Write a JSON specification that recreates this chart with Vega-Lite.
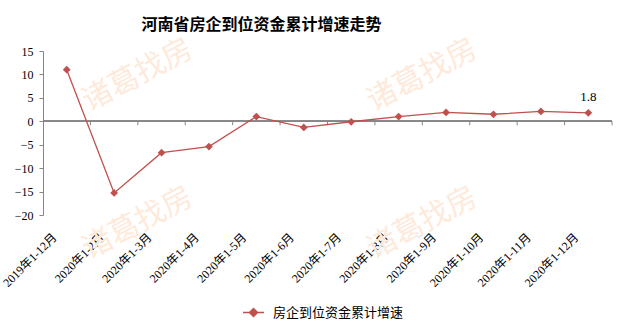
{
  "$schema": "https://vega.github.io/schema/vega-lite/v6.json",
  "width": 569,
  "height": 164,
  "autosize": {"type": "none"},
  "padding": {"left": 43, "top": 51, "right": 17, "bottom": 118},
  "background": "#ffffff",
  "title": {
    "text": "河南省房企到位资金累计增速走势",
    "font": "Noto Sans CJK SC",
    "fontSize": 16,
    "fontWeight": "bold",
    "color": "#000000",
    "anchor": "middle",
    "frame": "group",
    "baseline": "alphabetic",
    "offset": 15,
    "dx": -66,
    "dy": 27
  },
  "datasets": {
    "series": [
      {"cat": "2019年1-12月", "value": 11.0, "series": "房企到位资金累计增速"},
      {"cat": "2020年1-2月", "value": -15.3, "series": "房企到位资金累计增速"},
      {"cat": "2020年1-3月", "value": -6.7, "series": "房企到位资金累计增速"},
      {"cat": "2020年1-4月", "value": -5.4, "series": "房企到位资金累计增速"},
      {"cat": "2020年1-5月", "value": 1.0, "series": "房企到位资金累计增速"},
      {"cat": "2020年1-6月", "value": -1.3, "series": "房企到位资金累计增速"},
      {"cat": "2020年1-7月", "value": -0.1, "series": "房企到位资金累计增速"},
      {"cat": "2020年1-8月", "value": 1.0, "series": "房企到位资金累计增速"},
      {"cat": "2020年1-9月", "value": 1.9, "series": "房企到位资金累计增速"},
      {"cat": "2020年1-10月", "value": 1.5, "series": "房企到位资金累计增速"},
      {"cat": "2020年1-11月", "value": 2.1, "series": "房企到位资金累计增速"},
      {"cat": "2020年1-12月", "value": 1.8, "series": "房企到位资金累计增速"}
    ],
    "watermark": [
      {"cat": "2020年1-3月", "value": 9.8, "text": "诸葛找房"},
      {"cat": "2020年1-3月", "value": -21.8, "text": "诸葛找房"},
      {"cat": "2020年1-9月", "value": 9.8, "text": "诸葛找房"},
      {"cat": "2020年1-9月", "value": -21.8, "text": "诸葛找房"}
    ]
  },
  "data": {"name": "series"},
  "encoding": {
    "x": {
      "field": "cat",
      "type": "ordinal",
      "sort": ["2019年1-12月", "2020年1-2月", "2020年1-3月", "2020年1-4月", "2020年1-5月", "2020年1-6月", "2020年1-7月", "2020年1-8月", "2020年1-9月", "2020年1-10月", "2020年1-11月", "2020年1-12月"],
      "scale": {"paddingInner": 0, "paddingOuter": 0},
      "axis": {
        "title": null,
        "domain": false,
        "ticks": false,
        "grid": false,
        "labelAngle": -45,
        "labelAlign": "right",
        "labelBaseline": "middle",
        "labelPadding": 20,
        "labelOffset": -12,
        "labelOverlap": false,
        "labelFont": "Liberation Serif, Noto Sans CJK SC",
        "labelFontSize": 12,
        "labelColor": "#000000"
      }
    },
    "y": {
      "field": "value",
      "type": "quantitative",
      "scale": {"domain": [-20, 15], "nice": false, "zero": false},
      "axis": {
        "title": null,
        "values": [-20, -15, -10, -5, 0, 5, 10, 15],
        "grid": false,
        "labelOverlap": false,
        "domainColor": "#868686",
        "tickColor": "#868686",
        "tickSize": 4,
        "labelPadding": 6,
        "labelFont": "Liberation Serif",
        "labelFontSize": 12,
        "labelColor": "#000000"
      }
    }
  },
  "layer": [
    {
      "data": {"name": "watermark"},
      "mark": {
        "type": "text",
        "font": "Noto Sans CJK SC",
        "fontSize": 30,
        "angle": -28,
        "color": "#feeadb",
        "clip": false
      },
      "encoding": {
        "x": {"field": "cat", "type": "ordinal", "bandPosition": 0},
        "text": {"field": "text"}
      }
    },
    {
      "mark": {"type": "rule", "color": "#868686", "strokeWidth": 1},
      "encoding": {"x": null, "y": {"datum": 0, "type": "quantitative"}}
    },
    {
      "mark": {"type": "rule", "color": "#868686", "strokeWidth": 1},
      "encoding": {
        "x": {"field": "cat", "type": "ordinal", "bandPosition": 1},
        "y": {"datum": 0, "type": "quantitative"},
        "y2": {"datum": -0.85}
      }
    },
    {
      "mark": {"type": "line", "strokeWidth": 1.3},
      "encoding": {
        "color": {
          "field": "series",
          "type": "nominal",
          "scale": {"range": ["#c0504d"]},
          "legend": {
            "title": null,
            "orient": "none",
            "legendX": 199,
            "legendY": 250,
            "symbolType": "M-1,0L1,0M-0.38,0L0,-0.38L0.38,0L0,0.38Z",
            "symbolSize": 441,
            "symbolStrokeWidth": 1.5,
            "symbolFillColor": "#c0504d",
            "symbolStrokeColor": "#c0504d",
            "labelFont": "Noto Sans CJK SC",
            "labelFontSize": 13,
            "labelColor": "#000000",
            "labelOffset": 8
          }
        }
      }
    },
    {
      "mark": {"type": "point", "shape": "diamond", "filled": true, "size": 60, "color": "#c0504d", "opacity": 1}
    },
    {
      "transform": [{"filter": "datum.cat === '2020年1-12月'"}],
      "mark": {"type": "text", "dy": -16, "font": "Liberation Serif", "fontSize": 13, "color": "#000000"},
      "encoding": {
        "text": {"field": "value", "type": "quantitative", "format": ".1f"}
      }
    }
  ],
  "config": {
    "view": {"stroke": null}
  }
}
